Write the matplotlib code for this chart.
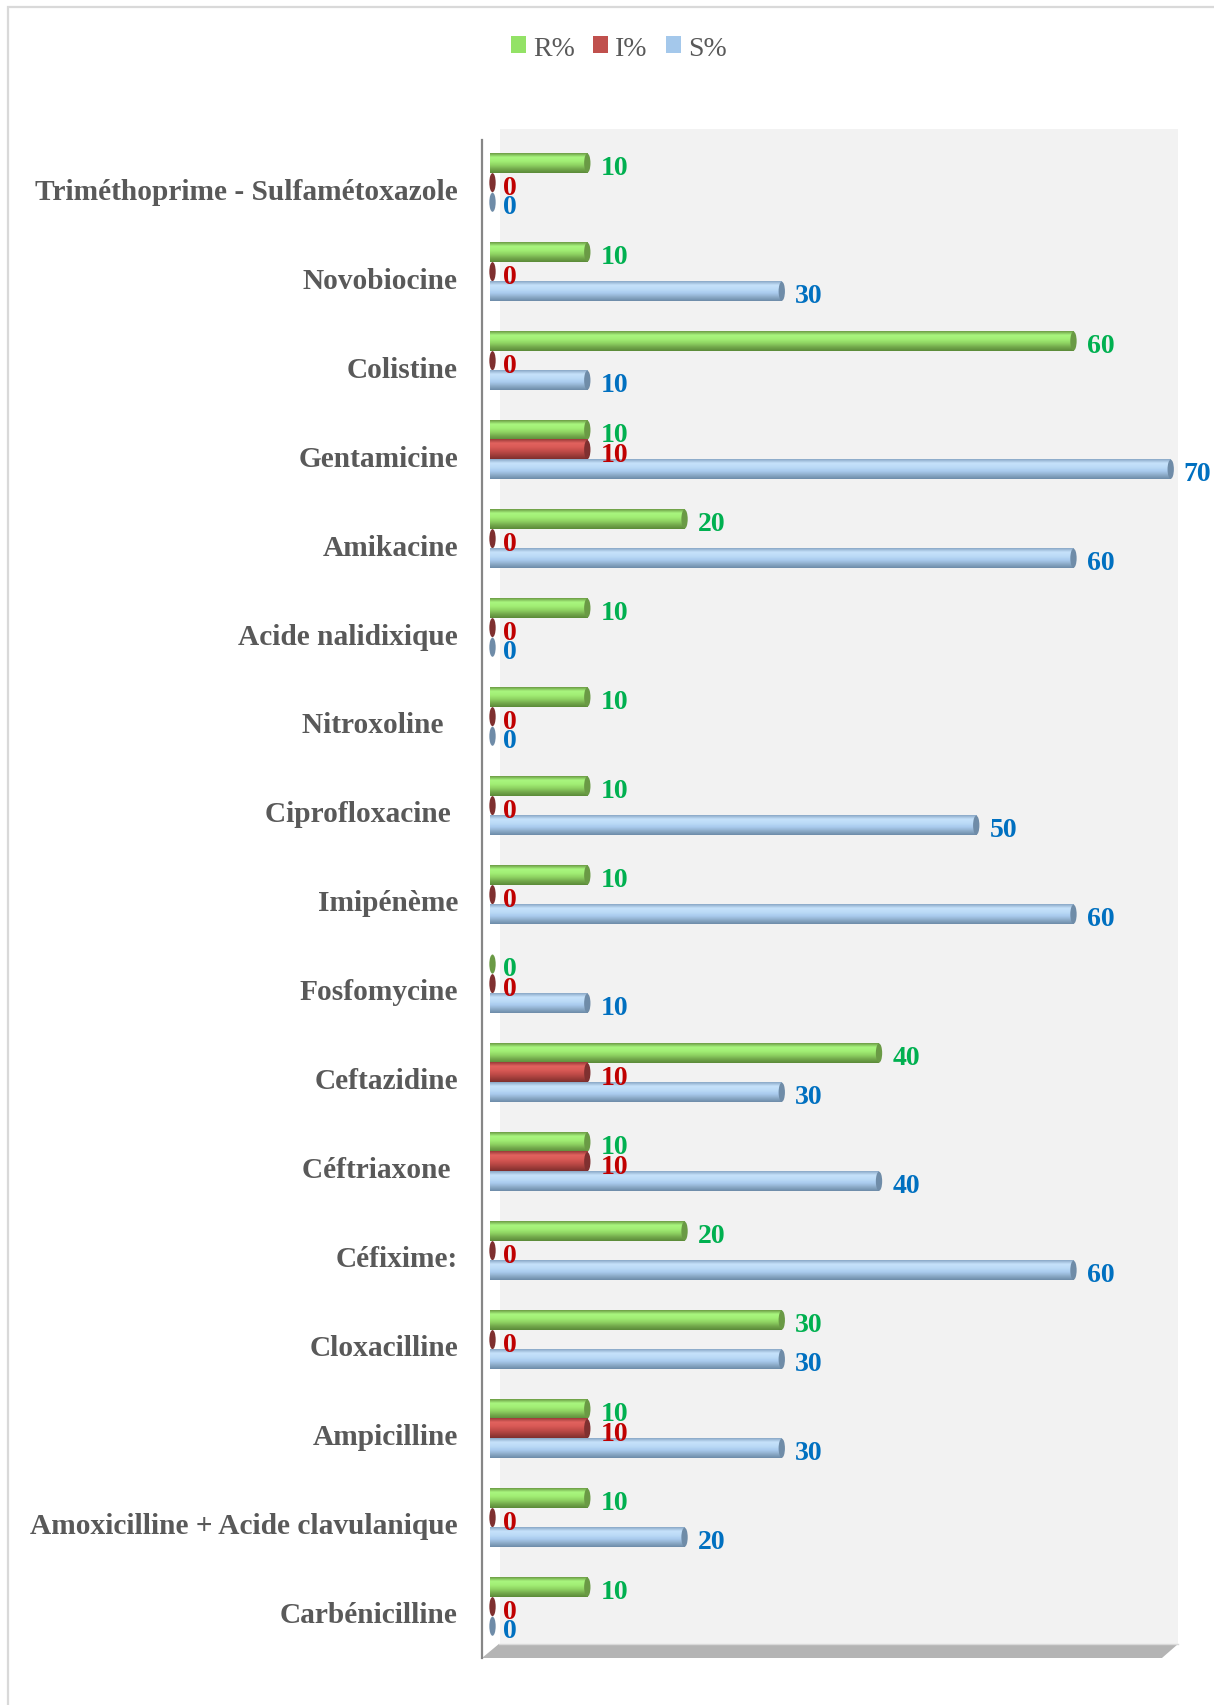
import matplotlib
matplotlib.use("Agg")
import matplotlib.pyplot as plt
import numpy as np
from matplotlib.patches import Rectangle, Ellipse, Polygon, Patch
from matplotlib.colors import LinearSegmentedColormap

plt.rcParams['font.family'] = ['Liberation Serif', 'DejaVu Serif']

# Données : pourcentages par antibiotique (de haut en bas)
antibiotiques = [
    "Triméthoprime - Sulfamétoxazole", "Novobiocine", "Colistine", "Gentamicine",
    "Amikacine", "Acide nalidixique", "Nitroxoline  ", "Ciprofloxacine ",
    "Imipénème", "Fosfomycine", "Ceftazidine", "Céftriaxone ", "Céfixime:",
    "Cloxacilline", "Ampicilline", "Amoxicilline + Acide clavulanique",
    "Carbénicilline",
]
r_pct = [10, 10, 60, 10, 20, 10, 10, 10, 10, 0, 40, 10, 20, 30, 10, 10, 10]
i_pct = [0, 0, 0, 10, 0, 0, 0, 0, 0, 0, 10, 10, 0, 0, 10, 0, 0]
s_pct = [0, 30, 10, 70, 60, 0, 0, 50, 60, 10, 30, 40, 60, 30, 30, 20, 0]
series = ["R%", "I%", "S%"]

W, H = 1214, 1706
fig = plt.figure(figsize=(W / 100, H / 100), dpi=100)

# cadre gris clair autour du graphique
fig.add_artist(Rectangle((8 / W, -0.1), 1.2, 1.1 - 8 / H, transform=fig.transFigure,
                         fill=False, ec='#d9d9d9', lw=1.6))

ax = fig.add_axes([482 / W, 1 - 1659 / H, (1178 - 482) / W, (1659 - 130) / H])
ax.set_facecolor('none')

x0, x1 = -0.83, 70.75
y_top, y_bot = -0.663, 16.517

# mur de fond et sol (effet 3D)
ax.add_patch(Rectangle((1.0, y_top), x1 - 1.0, 16.36 - y_top, fc='#f2f2f2', ec='none', zorder=0))
ax.add_patch(Polygon([(x0, y_bot), (0.9, 16.36), (x1, 16.36), (69.1, y_bot)],
                     closed=True, fc='#b4b4b4', ec='none', zorder=1, clip_on=False))
ax.plot([0.9, x1], [16.36, 16.36], color='#d9d9d9', lw=1, zorder=1, clip_on=False)

styles = [
    # dégradé haut -> bas, couleur du bout, couleur du texte
    (['#6c9c45', '#a9f67f', '#a2ef75', '#8fd363', '#74aa4c', '#5b8a39'], '#6a9a45', '#00b050'),
    (['#9a3b39', '#e2635f', '#d95a56', '#c24c49', '#a23e3b', '#7e2f2e'], '#7f3030', '#c00000'),
    (['#8aa8c6', '#c6e2fb', '#bcdbf7', '#a9cbee', '#8dacc9', '#6d8ba8'], '#6f8ca8', '#0070c0'),
]
offsets = [-0.28, -0.06, 0.16]
h = 0.215
grad = np.linspace(0, 1, 64).reshape(-1, 1)

for k, vals in enumerate([r_pct, i_pct, s_pct]):
    cols, cap, tcol = styles[k]
    cmap = LinearSegmentedColormap.from_list(series[k], cols)
    for j, v in enumerate(vals):
        y = j + offsets[k]
        if v > 0:
            ax.imshow(grad, cmap=cmap, aspect='auto', interpolation='bilinear',
                      extent=[0, v, y + h / 2, y - h / 2], zorder=3 + k * 0.1)
        ax.add_patch(Ellipse((max(v, 0.25), y), 0.65, h, fc=cap, ec='none', zorder=3.05 + k * 0.1))
        ax.text(v + 1.35, y + 0.05, str(v), color=tcol, fontsize=20, fontweight='bold',
                ha='left', va='center', zorder=5)

ax.set_xlim(x0, x1)
ax.set_ylim(y_bot, y_top)
ax.set_xticks([])
ax.set_yticks(range(len(antibiotiques)))
ax.set_yticklabels(antibiotiques, fontsize=21.2, fontweight='bold', color='#595959')
ax.tick_params(axis='y', length=0, pad=17.3)
for s in ['top', 'right', 'bottom']:
    ax.spines[s].set_visible(False)
ax.spines['left'].set_color('#868686')
ax.spines['left'].set_linewidth(1.6)
ax.spines['left'].set_bounds(y_bot, -0.54)

handles = [Patch(fc='#93e266', ec='none'), Patch(fc='#c0504d', ec='none'), Patch(fc='#a4c8eb', ec='none')]
fig.legend(handles, series, loc='center', bbox_to_anchor=(619 / W, 1 - 49 / H), ncol=3,
           frameon=False, fontsize=20, handlelength=0.55, handleheight=0.55,
           handletextpad=0.25, columnspacing=0.65, labelcolor='#595959')

fig.savefig('out.png', dpi=100)
